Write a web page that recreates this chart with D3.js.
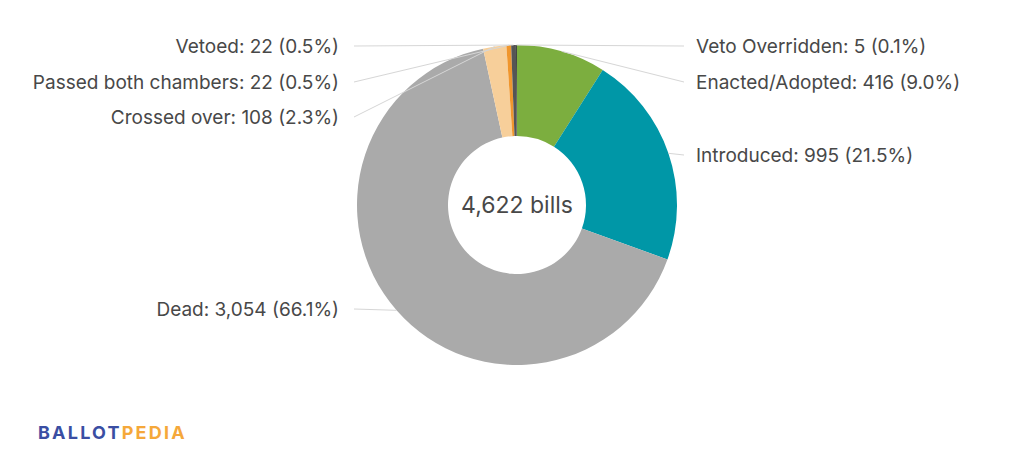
<!DOCTYPE html>
<html><head><meta charset="utf-8">
<script src="https://cdn.jsdelivr.net/npm/d3@7"></script>
<style>body{margin:0;background:#fff}svg{display:block}</style>
</head><body>
<svg id="c" width="1024" height="462"></svg>
<script>
const categories = ["Enacted/Adopted","Introduced","Dead","Crossed over","Passed both chambers","Vetoed","Veto Overridden"];
const values = [416, 995, 3054, 108, 22, 22, 5];
const percents = ["9.0%","21.5%","66.1%","2.3%","0.5%","0.5%","0.1%"];
const colors = ["#7cae3f","#0097a7","#aaaaaa","#f7cf9a","#f0962d","#555555","#444444"];
const sides = ["right","right","left","left","left","left","right"];
const labelY = [82,155,309,117,82,46,46];
const totalLabel = "4,622 bills";

const svg = d3.select("#c");
const cx = 517, cy = 205, R = 160, r = 69;
const g = svg.append("g").attr("transform", `translate(${cx},${cy})`);
const pie = d3.pie().sort(null).value(d => d)(values);
const arc = d3.arc().innerRadius(r).outerRadius(R);
g.selectAll("path").data(pie).join("path")
  .attr("d", arc).attr("fill", (d,i) => colors[i]);

const fmt = d3.format(",");
const leftX = 354, rightX = 684;
pie.forEach((d,i) => {
  const a = (d.startAngle + d.endAngle)/2;
  const px = R*Math.sin(a), py = -R*Math.cos(a);
  const lx = (sides[i]==="left" ? leftX : rightX) - cx;
  const ly = labelY[i] - cy;
  g.append("line").attr("x1", px).attr("y1", py).attr("x2", lx).attr("y2", ly)
    .attr("stroke", "#d6d6d6").attr("stroke-width", 1);
  g.append("text")
    .attr("x", sides[i]==="left" ? lx - 15 : lx + 12)
    .attr("y", ly)
    .attr("dy", "0.35em")
    .attr("text-anchor", sides[i]==="left" ? "end" : "start")
    .attr("font-family", "Inter, 'Noto Sans', sans-serif")
    .attr("font-size", 19)
    .attr("fill", "#484848")
    .text(`${categories[i]}: ${fmt(values[i])} (${percents[i]})`);
});

g.append("text").attr("x", 0).attr("y", 0).attr("dy", "0.35em")
  .attr("text-anchor", "middle")
  .attr("font-family", "Inter, 'Noto Sans', sans-serif")
  .attr("font-size", 23).attr("fill", "#484848").text(totalLabel);

const logo = svg.append("text").attr("x", 38).attr("y", 439)
  .attr("font-family", "Inter, 'Noto Sans', sans-serif")
  .attr("font-size", 18).attr("font-weight", 700).attr("letter-spacing", 2.2);
logo.append("tspan").attr("fill", "#3a4ea3").text("BALLOT");
logo.append("tspan").attr("fill", "#f5a83a").text("PEDIA");
</script>
</body></html>
